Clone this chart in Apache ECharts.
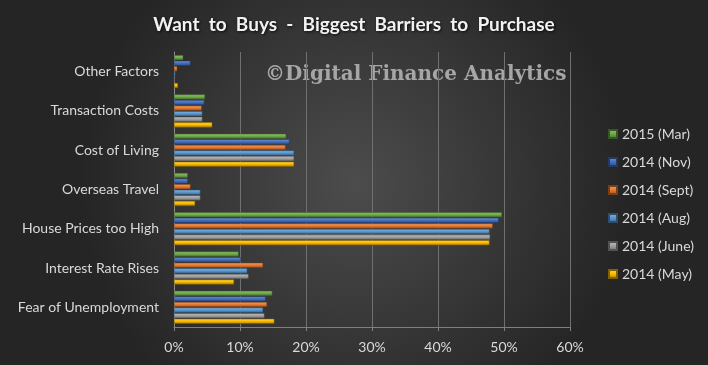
<!DOCTYPE html>
<html><head><meta charset="utf-8">
<script src="https://cdn.jsdelivr.net/npm/echarts@6/dist/echarts.min.js"></script>
<style>html,body{margin:0;padding:0;background:#333;}#c{width:708px;height:365px;}</style>
</head><body><div id="c"></div>
<script>
const categories = ['Other Factors','Transaction Costs','Cost of Living','Overseas Travel','House Prices too High','Interest Rate Rises','Fear of Unemployment'];
const seriesNames = ['2015 (Mar)','2014 (Nov)','2014 (Sept)','2014 (Aug)','2014 (June)','2014 (May)'];
const mar2015  = [1.4, 4.7, 17.0, 2.1, 49.7, 9.8, 14.9];
const nov2014  = [2.5, 4.6, 17.5, 2.1, 49.2, 10.1, 13.9];
const sept2014 = [0.5, 4.2, 16.9, 2.5, 48.3, 13.5, 14.1];
const aug2014  = [0.2, 4.3, 18.2, 4.0, 47.8, 11.1, 13.5];
const june2014 = [0.1, 4.3, 18.2, 4.0, 47.9, 11.3, 13.7];
const may2014  = [0.6, 5.8, 18.2, 3.2, 47.8, 9.1, 15.2];
const xTicks = [0, 10, 20, 30, 40, 50, 60];

const colors = ['#70ad47','#4472c4','#ed7d31','#5b9bd5','#a5a5a5','#ffc000'];
const dataSets = [mar2015, nov2014, sept2014, aug2014, june2014, may2014];

function shade(hex, f){
  const n = parseInt(hex.slice(1),16);
  let r=(n>>16)&255,g=(n>>8)&255,b=n&255;
  if(f>0){r=r+(255-r)*f;g=g+(255-g)*f;b=b+(255-b)*f;}else{r=r*(1+f);g=g*(1+f);b=b*(1+f);}
  return 'rgb('+Math.round(r)+','+Math.round(g)+','+Math.round(b)+')';
}

const chart = echarts.init(document.getElementById('c'), null, {renderer:'canvas'});
const series = seriesNames.map((name,i)=>({
  name: name,
  type: 'bar',
  data: dataSets[i],
  barGap: '10%',
  barCategoryGap: '16%',
  itemStyle: {
    color: {type:'linear',x:0,y:0,x2:0,y2:1,colorStops:[
      {offset:0,color:shade(colors[i],0.25)},
      {offset:0.45,color:colors[i]},
      {offset:1,color:shade(colors[i],-0.35)}]},
    borderColor: shade(colors[i],-0.5),
    borderWidth: 0.5
  }
}));

chart.setOption({
  animation: false,
  backgroundColor: {type:'radial', x:0.5, y:0.5, r:0.75, colorStops:[
    {offset:0,color:'#4c4c4c'},{offset:1,color:'#252525'}]},
  color: colors,
  title: {
    text: 'Want  to  Buys  -  Biggest  Barriers  to  Purchase',
    left: 'center', top: 10,
    textStyle: {color:'#f2f2f2', fontFamily:'Lato', fontWeight:'bold', fontSize:19,
      textShadowColor:'rgba(0,0,0,0.8)', textShadowBlur:3, textShadowOffsetX:1, textShadowOffsetY:1}
  },
  legend: {
    orient: 'vertical',
    left: 603, top: 122,
    itemWidth: 8, itemHeight: 8, itemGap: 14,
    icon: 'rect',
    textStyle: {color:'#d9d9d9', fontFamily:'Lato', fontSize:14},
    data: seriesNames
  },
  grid: {left:174, right:138, top:52, bottom:38, containLabel:false},
  xAxis: {
    type: 'value', min: 0, max: 60, interval: 10,
    axisLabel: {color:'#d9d9d9', fontFamily:'Lato', fontSize:14, margin:13,
      formatter: v => xTicks.includes(v) ? v + '%' : ''},
    axisLine: {show:true, lineStyle:{color:'#7f7f7f'}},
    axisTick: {show:true, lineStyle:{color:'#7f7f7f'}, length:4},
    splitLine: {show:true, lineStyle:{color:'#707070', width:1}}
  },
  yAxis: {
    type: 'category', data: categories, inverse: true,
    axisLabel: {color:'#d9d9d9', fontFamily:'Lato', fontSize:14, margin:15},
    axisLine: {show:true, lineStyle:{color:'#8c8c8c'}},
    axisTick: {show:false}
  },
  graphic: [{
    type: 'text', left: 265, top: 65,
    style: {text:'©Digital Finance Analytics', fill:'#a6a6a6',
      font:'bold 20px "DejaVu Serif"'},
    z: 0
  }],
  series: series
});
</script></body></html>
